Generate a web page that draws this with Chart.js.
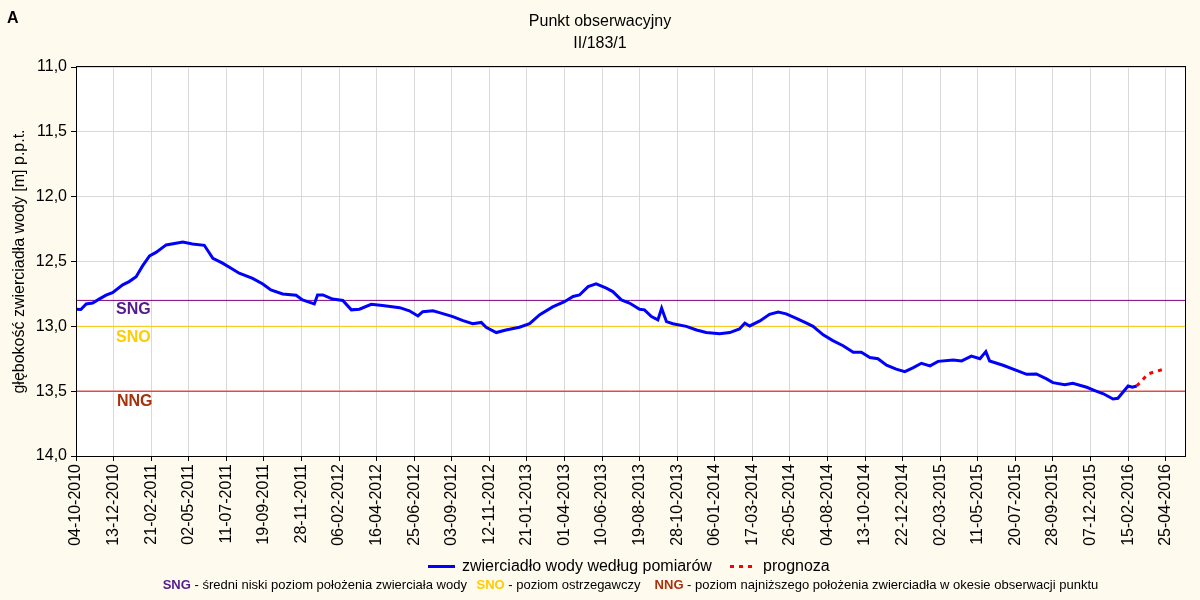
<!DOCTYPE html>
<html>
<head>
<meta charset="utf-8">
<script src="https://cdn.jsdelivr.net/npm/chart.js@4/dist/chart.umd.min.js"></script>
<style>
  html, body { margin: 0; padding: 0; background: #fffaee; }
</style>
</head>
<body>
<canvas id="myChart1" width="1200" height="600"></canvas>
<script>
// os X liczona w dniach od pierwszej daty
const start_date = '04-10-2010';
const tick_labels = [
    '04-10-2010', '13-12-2010', '21-02-2011', '02-05-2011', '11-07-2011', '19-09-2011',
    '28-11-2011', '06-02-2012', '16-04-2012', '25-06-2012', '03-09-2012', '12-11-2012',
    '21-01-2013', '01-04-2013', '10-06-2013', '19-08-2013', '28-10-2013', '06-01-2014',
    '17-03-2014', '26-05-2014', '04-08-2014', '13-10-2014', '22-12-2014', '02-03-2015',
    '11-05-2015', '20-07-2015', '28-09-2015', '07-12-2015', '15-02-2016', '25-04-2016'
];
const x_max_day = 2066;

// zwierciadlo wody wedlug pomiarow (dzien, glebokosc [m])
const pomiary_dni = [
    0, 9, 19, 31, 43, 56, 68, 87, 99, 112, 124, 137, 149, 168, 199, 217, 239, 255, 273, 292,
    304, 329, 348, 363, 385, 410, 422, 444, 450, 460, 478, 497, 513, 528, 550, 571, 603, 621, 637, 646,
    665, 677, 702, 721, 739, 755, 764, 783, 801, 826, 845, 864, 888, 910, 926, 938, 954, 969, 988, 1000,
    1016, 1031, 1050, 1059, 1072, 1084, 1091, 1100, 1112, 1137, 1156, 1174, 1199, 1218, 1236, 1246, 1255, 1274, 1292, 1308,
    1323, 1342, 1361, 1373, 1392, 1410, 1429, 1448, 1463, 1479, 1494, 1510, 1528, 1544, 1559, 1575, 1591, 1606, 1634, 1650,
    1668, 1684, 1695, 1702, 1727, 1752, 1771, 1789, 1808, 1820, 1842, 1857, 1883, 1898, 1914, 1932, 1941, 1960, 1968, 1976
];
const pomiary_m = [
    12.868, 12.87, 12.827, 12.82, 12.79, 12.76, 12.74, 12.68, 12.655, 12.617, 12.534, 12.457, 12.43, 12.372, 12.35, 12.365, 12.375, 12.475, 12.513, 12.56,
    12.59, 12.63, 12.673, 12.72, 12.75, 12.76, 12.796, 12.827, 12.758, 12.758, 12.79, 12.80, 12.873, 12.868, 12.83, 12.84, 12.856, 12.88, 12.92, 12.887,
    12.88, 12.894, 12.925, 12.956, 12.98, 12.97, 13.007, 13.048, 13.028, 13.007, 12.98, 12.91, 12.85, 12.81, 12.77, 12.758, 12.694, 12.673, 12.706, 12.732,
    12.796, 12.82, 12.868, 12.873, 12.925, 12.95, 12.86, 12.964, 12.98, 13.0, 13.028, 13.048, 13.058, 13.048, 13.02, 12.976, 12.997, 12.958, 12.907, 12.89,
    12.904, 12.938, 12.976, 13.0, 13.066, 13.11, 13.15, 13.20, 13.20, 13.24, 13.25, 13.30, 13.33, 13.35, 13.32, 13.285, 13.305, 13.27, 13.26, 13.267,
    13.23, 13.25, 13.195, 13.267, 13.30, 13.34, 13.37, 13.367, 13.405, 13.434, 13.45, 13.44, 13.47, 13.495, 13.52, 13.56, 13.555, 13.46, 13.47, 13.46
];

// prognoza
const prognoza_dni = [1976, 1987, 1997, 2010, 2027];
const prognoza_m = [13.46, 13.413, 13.367, 13.35, 13.33];

// poziomy charakterystyczne
const SNG = 12.8;
const SNO = 13.0;
const NNG = 13.5;

const FONT = "'Liberation Sans', Arial, sans-serif";

function parse_date(s) {
    const p = s.split('-');
    return Date.UTC(Number(p[2]), Number(p[1]) - 1, Number(p[0]));
}
const t0 = parse_date(start_date);
const tick_days = tick_labels.map(s => Math.round((parse_date(s) - t0) / 86400000));

function xy(dni, vals) {
    return dni.map((d, i) => ({ x: d, y: vals[i] }));
}
function level(v) {
    return [{ x: 0, y: v }, { x: x_max_day, y: v }];
}

const decor = {
    id: 'decor',
    beforeDraw(chart) {
        const ctx = chart.ctx;
        const a = chart.chartArea;
        ctx.save();
        ctx.fillStyle = '#fffaee';
        ctx.fillRect(0, 0, chart.width, chart.height);
        ctx.fillStyle = '#ffffff';
        ctx.fillRect(a.left, a.top, a.right - a.left, a.bottom - a.top);
        ctx.restore();
    },
    afterDraw(chart) {
        const ctx = chart.ctx;
        const a = chart.chartArea;
        const ys = chart.scales.y;
        ctx.save();

        // ramka wykresu
        ctx.strokeStyle = '#000';
        ctx.lineWidth = 1;
        ctx.strokeRect(Math.round(a.left) + 0.5, Math.round(a.top) - 0.5, Math.round(a.right - a.left), Math.round(a.bottom - a.top) + 1);

        // A
        ctx.fillStyle = '#000';
        ctx.font = 'bold 16px ' + FONT;
        ctx.textAlign = 'left';
        ctx.textBaseline = 'alphabetic';
        ctx.fillText('A', 7, 23);

        // tytul
        ctx.font = '16px ' + FONT;
        ctx.textAlign = 'center';
        ctx.fillText('Punkt obserwacyjny', 600, 26);
        ctx.fillText('II/183/1', 600, 48);

        // opis osi Y
        ctx.save();
        ctx.translate(20, (a.top + a.bottom) / 2);
        ctx.rotate(-Math.PI / 2);
        ctx.textBaseline = 'middle';
        ctx.fillText('głębokość zwierciadła wody [m] p.p.t.', 0, 0);
        ctx.restore();

        // etykiety poziomow
        ctx.font = 'bold 16px ' + FONT;
        ctx.textAlign = 'left';
        ctx.textBaseline = 'middle';
        ctx.fillStyle = '#551a8b';
        ctx.fillText('SNG', 116, ys.getPixelForValue(SNG) + 9);
        ctx.fillStyle = '#ffcc00';
        ctx.fillText('SNO', 116, ys.getPixelForValue(SNO) + 11);
        ctx.fillStyle = '#a8320c';
        ctx.fillText('NNG', 117, ys.getPixelForValue(NNG) + 10);

        // legenda
        const ly = 566.5;
        ctx.lineWidth = 3;
        ctx.strokeStyle = '#0000ff';
        ctx.beginPath();
        ctx.moveTo(428, ly);
        ctx.lineTo(455, ly);
        ctx.stroke();
        ctx.strokeStyle = '#ff0000';
        ctx.setLineDash([4, 5]);
        ctx.beginPath();
        ctx.moveTo(730, ly);
        ctx.lineTo(756, ly);
        ctx.stroke();
        ctx.setLineDash([]);
        ctx.fillStyle = '#000';
        ctx.font = '16px ' + FONT;
        ctx.fillText('zwierciadło wody według pomiarów', 462, ly);
        ctx.fillText('prognoza', 763, ly);

        // objasnienia
        const fy = 585;
        const parts = [
            [162.7, 'SNG', '#551a8b', ' - średni niski poziom położenia zwierciała wody'],
            [476.5, 'SNO', '#ffcc00', ' - poziom ostrzegawczy'],
            [654.6, 'NNG', '#a8320c', ' - poziom najniższego położenia zwierciadła w okesie obserwacji punktu']
        ];
        parts.forEach(p => {
            ctx.font = 'bold 13px ' + FONT;
            ctx.fillStyle = p[2];
            ctx.fillText(p[1], p[0], fy);
            const w = ctx.measureText(p[1]).width;
            ctx.font = '13px ' + FONT;
            ctx.fillStyle = '#000';
            ctx.fillText(p[3], p[0] + w, fy);
        });

        ctx.restore();
    }
};

const ctx = document.getElementById('myChart1').getContext('2d');
const chart = new Chart(ctx, {
    type: 'line',
    data: {
        datasets: [
            {
                label: 'zwierciadło wody według pomiarów',
                data: xy(pomiary_dni, pomiary_m),
                borderColor: '#0000ff',
                borderWidth: 3,
                pointRadius: 0,
                tension: 0,
                order: 1
            },
            {
                label: 'prognoza',
                data: xy(prognoza_dni, prognoza_m),
                borderColor: '#ff0000',
                borderWidth: 3,
                borderDash: [4, 5],
                pointRadius: 0,
                order: 2
            },
            { label: 'SNG', data: level(SNG), borderColor: '#800080', borderWidth: 1, pointRadius: 0, order: 3 },
            { label: 'SNO', data: level(SNO), borderColor: '#ffc800', borderWidth: 1, pointRadius: 0, order: 4 },
            { label: 'NNG', data: level(NNG), borderColor: '#e00000', borderWidth: 1, pointRadius: 0, order: 5 }
        ]
    },
    options: {
        responsive: false,
        animation: false,
        layout: { padding: { left: 0, top: 67, right: 15, bottom: 0 } },
        plugins: {
            legend: { display: false },
            tooltip: { enabled: false }
        },
        scales: {
            x: {
                type: 'linear',
                min: 0,
                max: x_max_day,
                afterBuildTicks: s => { s.ticks = tick_days.map(v => ({ value: v })); },
                afterFit: s => { s.height = 144; },
                ticks: {
                    autoSkip: false,
                    maxRotation: 90,
                    minRotation: 90,
                    padding: 3,
                    color: '#000',
                    font: { family: FONT, size: 16 },
                    callback: v => tick_labels[tick_days.indexOf(v)]
                },
                grid: { color: '#d9d9d9', tickColor: '#000', tickLength: 5 },
                border: { color: '#000' }
            },
            y: {
                reverse: true,
                min: 11,
                max: 14,
                afterFit: s => { s.width = 76; },
                ticks: {
                    stepSize: 0.5,
                    padding: 4,
                    color: '#000',
                    font: { family: FONT, size: 16 },
                    callback: v => v.toFixed(1).replace('.', ',')
                },
                grid: { color: '#d9d9d9', tickColor: '#000', tickLength: 5 },
                border: { color: '#000' }
            }
        }
    },
    plugins: [decor]
});
</script>
</body>
</html>
